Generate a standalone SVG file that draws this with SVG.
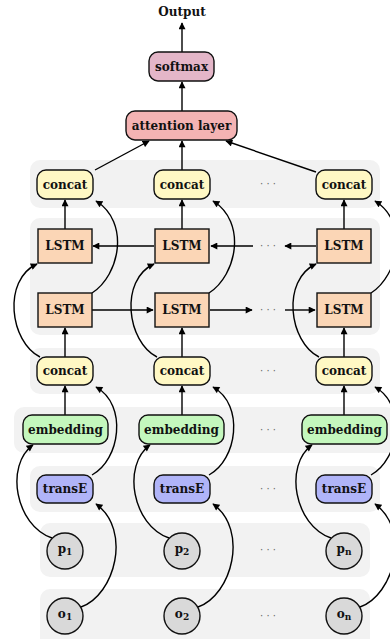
<svg xmlns="http://www.w3.org/2000/svg" width="390" height="639" viewBox="0 0 390 639">
<defs>
<marker id="ah" viewBox="0 0 10 10" refX="9" refY="5" markerWidth="8" markerHeight="7" markerUnits="userSpaceOnUse" orient="auto">
<path d="M0,0 L10,5 L0,10 z" fill="#000"/>
</marker>
<style>
.bg{fill:#f2f2f2}
.n{stroke:#111;stroke-width:1.4}
.t{font-family:"DejaVu Serif","Liberation Serif",serif;font-weight:bold;font-size:12px;text-anchor:middle;fill:#111}
.dots{font-family:"DejaVu Sans",sans-serif;font-size:10px;text-anchor:middle;fill:#666}
.c{fill:none;stroke:#000;stroke-width:1.4;marker-end:url(#ah)}
.soft{fill:#e4b6c8}.att{fill:#f4b3b3}.cc{fill:#fff8c4}.ls{fill:#fbd6b6}.em{fill:#c4f7bd}.te{fill:#b0b4f8}.ci{fill:#d9d9d9}
</style>
</defs>
<g id="backgrounds">
<rect class="bg" x="30" y="160" width="350" height="48" rx="10"/>
<rect class="bg" x="30" y="218" width="350" height="117" rx="10"/>
<rect class="bg" x="30" y="348" width="350" height="46" rx="10"/>
<rect class="bg" x="14" y="407" width="382" height="46" rx="10"/>
<rect class="bg" x="30" y="466" width="350" height="46" rx="10"/>
<rect class="bg" x="40" y="523" width="330" height="54" rx="10"/>
<rect class="bg" x="40" y="589" width="330" height="60" rx="10"/>
</g>
<g id="connectors">
<line class="c" x1="182" y1="52" x2="182" y2="23"/>
<line class="c" x1="182" y1="111" x2="182" y2="82"/>
<line class="c" x1="95" y1="170" x2="149" y2="141"/>
<line class="c" x1="182" y1="170" x2="182" y2="141"/>
<line class="c" x1="316" y1="172" x2="226" y2="141"/>
<line class="c" x1="65" y1="229" x2="65" y2="200"/>
<line class="c" x1="182" y1="229" x2="182" y2="200"/>
<line class="c" x1="344" y1="229" x2="344" y2="200"/>
<line class="c" x1="65" y1="357" x2="65" y2="328"/>
<line class="c" x1="182" y1="357" x2="182" y2="328"/>
<line class="c" x1="344" y1="357" x2="344" y2="328"/>
<line class="c" x1="65" y1="415" x2="65" y2="386"/>
<line class="c" x1="182" y1="415" x2="182" y2="386"/>
<line class="c" x1="344" y1="415" x2="344" y2="386"/>
<line class="c" x1="154" y1="246" x2="93" y2="246"/>
<line class="c" x1="253" y1="246" x2="211" y2="246"/>
<line class="c" x1="316" y1="246" x2="285" y2="246"/>
<line class="c" x1="92" y1="310" x2="153" y2="310"/>
<line class="c" x1="210" y1="310" x2="252" y2="310"/>
<line class="c" x1="285" y1="310" x2="315" y2="310"/>
<g id="curves1">
<path class="c" d="M92,293 C120,275 130,222 96,201"/>
<path class="c" d="M40,357 C10,342 2,280 37,264"/>
<path class="c" d="M92,475 C120,460 128,405 96,387"/>
<path class="c" d="M52,538 C15,525 5,465 33,445"/>
<path class="c" d="M81,607 C115,595 132,530 96,504"/>
</g>
<use href="#curves1" x="117"/>
<use href="#curves1" x="279"/>
</g>
<g id="dots">
<text class="dots" x="268" y="187">· · ·</text>
<text class="dots" x="268" y="249">· · ·</text>
<text class="dots" x="268" y="313">· · ·</text>
<text class="dots" x="268" y="374">· · ·</text>
<text class="dots" x="268" y="433">· · ·</text>
<text class="dots" x="268" y="492">· · ·</text>
<text class="dots" x="268" y="553">· · ·</text>
<text class="dots" x="268" y="619">· · ·</text>
</g>
<g id="output"><text class="t" x="182" y="16" font-size="11">Output</text></g>
<g id="softmax"><rect class="n soft" x="149" y="52" width="65" height="29" rx="9"/><text class="t" x="181.5" y="70.5">softmax</text></g>
<g id="attention"><rect class="n att" x="126" y="111" width="111" height="29" rx="9"/><text class="t" x="181.5" y="129.5">attention layer</text></g>
<g id="concat_top_1"><rect class="n cc" x="37" y="170" width="56" height="29" rx="9"/><text class="t" x="65" y="188.5">concat</text></g>
<g id="concat_top_2"><rect class="n cc" x="154" y="170" width="56" height="29" rx="9"/><text class="t" x="182" y="188.5">concat</text></g>
<g id="concat_top_n"><rect class="n cc" x="316" y="170" width="56" height="29" rx="9"/><text class="t" x="344" y="188.5">concat</text></g>
<g id="lstm_b_1"><rect class="n ls" x="38" y="229" width="54" height="34"/><text class="t" x="65" y="250">LSTM</text></g>
<g id="lstm_b_2"><rect class="n ls" x="155" y="229" width="54" height="34"/><text class="t" x="182" y="250">LSTM</text></g>
<g id="lstm_b_n"><rect class="n ls" x="317" y="229" width="54" height="34"/><text class="t" x="344" y="250">LSTM</text></g>
<g id="lstm_f_1"><rect class="n ls" x="38" y="293" width="54" height="34"/><text class="t" x="65" y="314">LSTM</text></g>
<g id="lstm_f_2"><rect class="n ls" x="155" y="293" width="54" height="34"/><text class="t" x="182" y="314">LSTM</text></g>
<g id="lstm_f_n"><rect class="n ls" x="317" y="293" width="54" height="34"/><text class="t" x="344" y="314">LSTM</text></g>
<g id="concat_bot_1"><rect class="n cc" x="37" y="357" width="56" height="28" rx="9"/><text class="t" x="65" y="375">concat</text></g>
<g id="concat_bot_2"><rect class="n cc" x="154" y="357" width="56" height="28" rx="9"/><text class="t" x="182" y="375">concat</text></g>
<g id="concat_bot_n"><rect class="n cc" x="316" y="357" width="56" height="28" rx="9"/><text class="t" x="344" y="375">concat</text></g>
<g id="emb_1"><rect class="n em" x="23" y="415" width="85" height="29" rx="9"/><text class="t" x="65.5" y="433.5">embedding</text></g>
<g id="emb_2"><rect class="n em" x="139" y="415" width="85" height="29" rx="9"/><text class="t" x="181.5" y="433.5">embedding</text></g>
<g id="emb_n"><rect class="n em" x="302" y="415" width="85" height="29" rx="9"/><text class="t" x="344.5" y="433.5">embedding</text></g>
<g id="transe_1"><rect class="n te" x="37" y="475" width="56" height="28" rx="9"/><text class="t" x="65" y="493">transE</text></g>
<g id="transe_2"><rect class="n te" x="154" y="475" width="56" height="28" rx="9"/><text class="t" x="182" y="493">transE</text></g>
<g id="transe_n"><rect class="n te" x="316" y="475" width="56" height="28" rx="9"/><text class="t" x="344" y="493">transE</text></g>
<g id="p1"><circle class="n ci" cx="65" cy="551" r="18"/><text class="t" x="65" y="553">p<tspan font-size="9" dy="2">1</tspan></text></g>
<g id="p2"><circle class="n ci" cx="182" cy="551" r="18"/><text class="t" x="182" y="553">p<tspan font-size="9" dy="2">2</tspan></text></g>
<g id="pn"><circle class="n ci" cx="344" cy="551" r="18"/><text class="t" x="344" y="553">p<tspan font-size="9" dy="2">n</tspan></text></g>
<g id="o1"><circle class="n ci" cx="65" cy="616" r="18"/><text class="t" x="65" y="618">o<tspan font-size="9" dy="2">1</tspan></text></g>
<g id="o2"><circle class="n ci" cx="182" cy="616" r="18"/><text class="t" x="182" y="618">o<tspan font-size="9" dy="2">2</tspan></text></g>
<g id="on"><circle class="n ci" cx="344" cy="616" r="18"/><text class="t" x="344" y="618">o<tspan font-size="9" dy="2">n</tspan></text></g>
</svg>
